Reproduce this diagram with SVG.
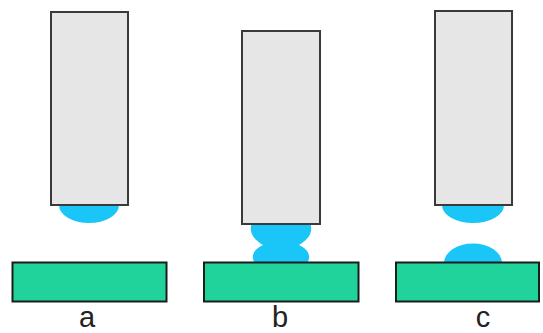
<svg xmlns="http://www.w3.org/2000/svg" width="543" height="333" viewBox="0 0 543 333">
  <style>
    .pin { fill: #e6e6e6; stroke: #3a3a3a; stroke-width: 2; }
    .pad { fill: #1fd39b; stroke: #1c1c1c; stroke-width: 2; }
    .solder { fill: #1ac6f7; }
    .label { font-family: "Liberation Sans", Arial, sans-serif; font-size: 29px; fill: #222; text-anchor: middle; }
  </style>
  <rect width="543" height="333" fill="#ffffff"/>

  <!-- stage a: solder drop hanging from the pin, pad still apart -->
  <g id="stage-a">
    <path id="drop-a" class="solder" d="M59,205 A30,18 0 0 0 119,205 Z"/>
    <rect id="pin-a" class="pin" x="51" y="12" width="77" height="193"/>
    <rect id="pad-a" class="pad" x="12.5" y="262.5" width="154" height="39"/>
    <text id="label-a" class="label" x="87" y="326.5">a</text>
  </g>

  <!-- stage b: solder bridges pin and pad -->
  <g id="stage-b">
    <path id="drop-b" class="solder" d="M252,223 L310,223 C313,230 311,238 299,245 C310,250 311,258 307,263 L255,263 C251,258 252,250 263,245 C251,238 249,230 252,223 Z"/>
    <rect id="pin-b" class="pin" x="242" y="31" width="78" height="193"/>
    <rect id="pad-b" class="pad" x="204" y="262.5" width="154.5" height="39"/>
    <text id="label-b" class="label" x="280" y="326.5">b</text>
  </g>

  <!-- stage c: solder split between pin and pad -->
  <g id="stage-c">
    <path id="drop-c-top" class="solder" d="M442,205 A31,18 0 0 0 504,205 Z"/>
    <path id="drop-c-bottom" class="solder" d="M444,263 A29,19.5 0 0 1 502,263 Z"/>
    <rect id="pin-c" class="pin" x="435" y="11" width="77" height="194"/>
    <rect id="pad-c" class="pad" x="396" y="262.5" width="143" height="39"/>
    <text id="label-c" class="label" x="483" y="326.5">c</text>
  </g>
</svg>
